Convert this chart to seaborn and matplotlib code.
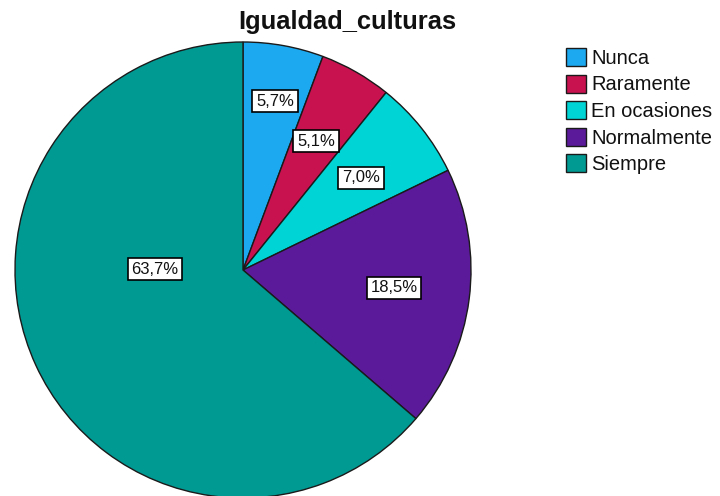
import matplotlib
matplotlib.use("Agg")
import matplotlib.pyplot as plt
import seaborn as sns

categories = ["Nunca", "Raramente", "En ocasiones", "Normalmente", "Siempre"]
percentages = [5.7, 5.1, 7.0, 18.5, 63.7]
label_texts = ["5,7%", "5,1%", "7,0%", "18,5%", "63,7%"]
hex_colors = ["#1CA9F0", "#C7124F", "#00D4D4", "#5A1A9A", "#009A93"]
title = "Igualdad_culturas"

sns.set_theme(style="white")
plt.rcParams["font.family"] = ["Liberation Sans", "DejaVu Sans"]

W, H = 720, 496
fig = plt.figure(figsize=(W / 100, H / 100), dpi=100)
ax = fig.add_axes([0, 0, 1, 1])

palette = sns.color_palette(hex_colors)
cx, cy, R = 243, H - 270, 228
wedges, _ = ax.pie(percentages, colors=palette, startangle=90, counterclock=False,
                   center=(cx, cy), radius=R,
                   wedgeprops=dict(edgecolor="#1a1a1a", linewidth=1.0))
ax.set_xlim(0, W)
ax.set_ylim(0, H)
ax.set_aspect("equal")
ax.axis("off")

# label box centres (pixels, from top-left)
label_pos = [(275, 101), (316, 141), (361, 178), (394, 288), (155, 269)]
for txt, (px, py) in zip(label_texts, label_pos):
    ax.text(px, H - py, txt, ha="center", va="center", fontsize=12, color="#111111",
            bbox=dict(boxstyle="square,pad=0.22", facecolor="white", edgecolor="black", linewidth=1.2))

ax.text(347, H - 22, title, ha="center", va="center", fontsize=18.4, fontweight="bold", color="#111111")

leg = ax.legend(wedges, categories, loc="upper left", bbox_to_anchor=(566 / W, 1 - 48 / H),
                frameon=False, fontsize=14.5, handlelength=1.0, handleheight=1.0,
                handletextpad=0.25, labelspacing=0.33, borderaxespad=0, borderpad=0)
for t in leg.get_texts():
    t.set_color("#111111")
for h in leg.legend_handles:
    h.set_edgecolor("#1a1a1a")
    h.set_linewidth(1.0)

fig.savefig("out.png", dpi=100)
